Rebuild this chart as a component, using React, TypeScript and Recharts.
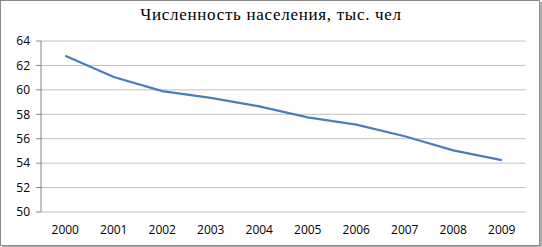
import React from "react";
import { LineChart, Line, XAxis, YAxis, CartesianGrid } from "recharts";

const years = ["2000", "2001", "2002", "2003", "2004", "2005", "2006", "2007", "2008", "2009"];
const population = [62.8, 61.05, 59.9, 59.35, 58.65, 57.75, 57.15, 56.2, 55.05, 54.25];
const yTicks = [50, 52, 54, 56, 58, 60, 62, 64];
const title = "Численность населения, тыс. чел";

const data = years.map((y, i) => ({ x: i + 0.5, year: y, v: population[i] }));
const labelTicks = years.map((_, i) => i + 0.5);
const boundaryTicks = [0, ...years.map((_, i) => i + 1)];

export default function App() {
  return (
    <div style={{ position: "fixed", left: 0, top: 0, width: 542, height: 247, background: "#fff" }}>
      <div
        style={{
          position: "absolute",
          left: 0,
          top: 0,
          width: 538,
          height: 244,
          border: "1px solid #8a8a8a",
          boxShadow: "2px 2px 0 #b0b0b0",
        }}
      />
      <div
        style={{
          position: "absolute",
          left: 0,
          top: 5,
          width: 542,
          textAlign: "center",
          fontFamily: "'Liberation Serif', serif",
          fontSize: 17,
          letterSpacing: 0.7,
          color: "#000",
        }}
      >
        {title}
      </div>
      <div style={{ position: "absolute", left: 0, top: 0 }}>
        <LineChart width={542} height={247} data={data} margin={{ top: 41, right: 16, bottom: 0, left: 0 }}>
          <CartesianGrid vertical={false} stroke="#c0c0c0" strokeWidth={1} />
          <XAxis
            xAxisId="lab"
            dataKey="x"
            type="number"
            domain={[0, 10]}
            ticks={labelTicks}
            tickFormatter={(v: number) => years[Math.round(v - 0.5)]}
            tickLine={false}
            axisLine={false}
            tickSize={0}
            tickMargin={13}
            height={35}
            interval={0}
            tick={{ fontFamily: "'Open Sans', sans-serif", fontSize: 12, fill: "#000" }}
          />
          <XAxis
            xAxisId="b"
            dataKey="x"
            type="number"
            domain={[0, 10]}
            ticks={boundaryTicks}
            tick={false}
            tickSize={4}
            tickLine={{ stroke: "#868686" }}
            axisLine={{ stroke: "#868686" }}
            height={0}
            interval={0}
          />
          <YAxis
            domain={[50, 64]}
            ticks={yTicks}
            width={41}
            tickSize={5}
            tickMargin={6}
            interval={0}
            tickLine={{ stroke: "#868686" }}
            axisLine={{ stroke: "#868686" }}
            tick={{ fontFamily: "'Open Sans', sans-serif", fontSize: 12, fill: "#000" }}
          />
          <Line
            xAxisId="lab"
            dataKey="v"
            stroke="#4a7ebb"
            strokeWidth={2.25}
            dot={false}
            isAnimationActive={false}
          />
        </LineChart>
      </div>
    </div>
  );
}
